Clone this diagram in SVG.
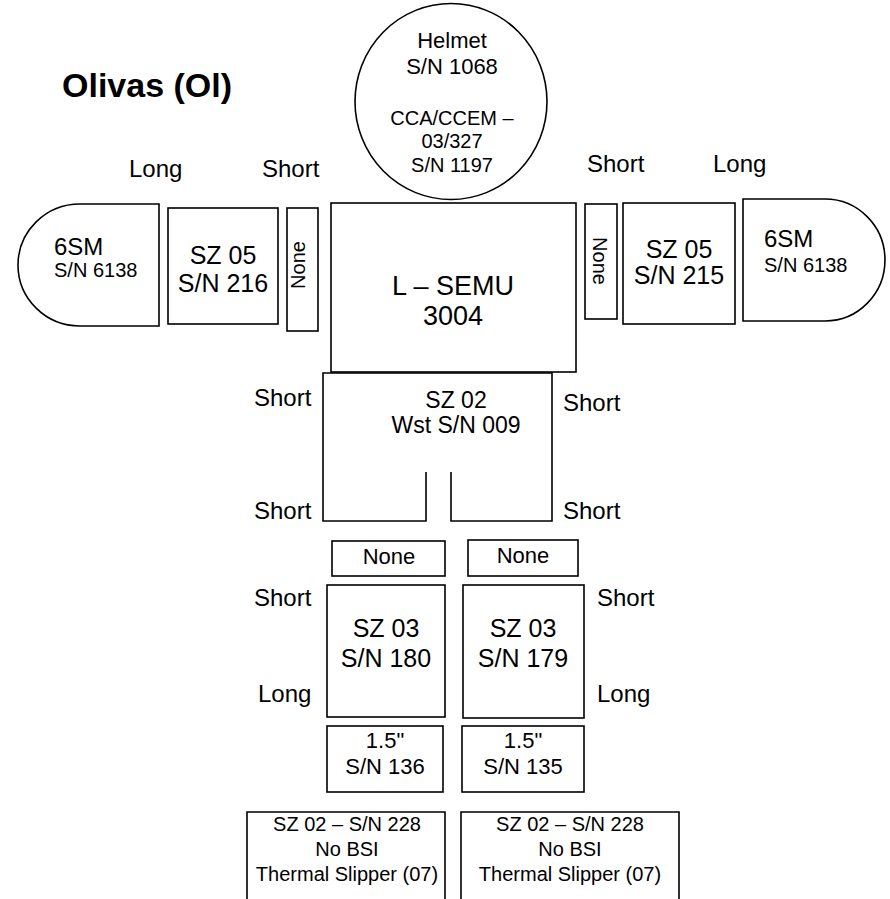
<svg xmlns="http://www.w3.org/2000/svg" width="890" height="899" viewBox="0 0 890 899">
<style>
  .s { fill: #fff; stroke: #000; stroke-width: 1.6; }
  .o { fill: none; stroke: #000; stroke-width: 1.6; }
  text { font-family: "Liberation Sans", Arial, sans-serif; fill: #000; }
  .c { text-anchor: middle; }
  .lbl { font-size: 24px; }
  .f25 { font-size: 25px; }
  .f22 { font-size: 22px; }
  .f20 { font-size: 20px; }
</style>
<rect width="890" height="899" fill="#fff"/>

<text x="62" y="97" style="font-size:34px;font-weight:bold">Olivas (Ol)</text>

<g id="labels" class="lbl">
  <text x="129" y="177">Long</text>
  <text x="262" y="177">Short</text>
  <text x="587" y="172">Short</text>
  <text x="713" y="172">Long</text>
  <text x="254" y="406">Short</text>
  <text x="563" y="411">Short</text>
  <text x="254" y="519">Short</text>
  <text x="563" y="519">Short</text>
  <text x="254" y="606">Short</text>
  <text x="597" y="606">Short</text>
  <text x="258" y="702">Long</text>
  <text x="597" y="702">Long</text>
</g>

<g id="helmet">
  <ellipse class="s" cx="451" cy="101.5" rx="96" ry="98"/>
  <text class="c f22" x="452" y="48">Helmet</text>
  <text class="c f22" x="452" y="74">S/N 1068</text>
  <text class="c f20" x="452" y="125">CCA/CCEM –</text>
  <text class="c f20" x="452" y="148">03/327</text>
  <text class="c f20" x="452" y="172">S/N 1197</text>
</g>

<g id="glove-left">
  <path class="s" d="M159,204 H80 A62,61 0 0 0 80,326 H159 Z"/>
  <text x="54" y="255" style="font-size:24px">6SM</text>
  <text x="54" y="277" class="f20">S/N 6138</text>
</g>
<g id="arm-left">
  <rect class="s" x="168" y="208" width="110" height="116"/>
  <text class="c f25" x="223" y="264">SZ 05</text>
  <text class="c f25" x="223" y="292">S/N 216</text>
</g>
<g id="spacer-arm-left">
  <rect class="s" x="287" y="208" width="31" height="123"/>
  <text class="c f20" transform="translate(305,265) rotate(-90)">None</text>
</g>

<g id="torso">
  <rect class="s" x="331" y="203" width="245" height="169"/>
  <text class="c" x="453" y="295" style="font-size:27px">L – SEMU</text>
  <text class="c" x="453" y="325" style="font-size:27px">3004</text>
</g>

<g id="spacer-arm-right">
  <rect class="s" x="585" y="204" width="32" height="115"/>
  <text class="c f20" transform="translate(593,261) rotate(90)">None</text>
</g>
<g id="arm-right">
  <rect class="s" x="623" y="203" width="112" height="121"/>
  <text class="c f25" x="679" y="258">SZ 05</text>
  <text class="c f25" x="679" y="284">S/N 215</text>
</g>
<g id="glove-right">
  <path class="s" d="M743,199 H825 A60,61 0 0 1 825,321 H743 Z"/>
  <text x="764" y="247" style="font-size:24px">6SM</text>
  <text x="764" y="272" class="f20">S/N 6138</text>
</g>

<g id="waist">
  <path class="o" d="M426,472 V521 H323 V373 H552 V521 H451 V472"/>
  <text class="c" x="456" y="408" style="font-size:23px">SZ 02</text>
  <text class="c" x="456" y="433" style="font-size:23px">Wst S/N 009</text>
</g>

<g id="spacer-leg-left">
  <rect class="s" x="332" y="541" width="113" height="35"/>
  <text class="c f22" x="389" y="564">None</text>
</g>
<g id="spacer-leg-right">
  <rect class="s" x="468" y="540" width="110" height="36"/>
  <text class="c f22" x="523" y="563">None</text>
</g>

<g id="leg-left">
  <rect class="s" x="327" y="585" width="118" height="132"/>
  <text class="c f25" x="386" y="637">SZ 03</text>
  <text class="c f25" x="386" y="667">S/N 180</text>
</g>
<g id="leg-right">
  <rect class="s" x="463" y="585" width="121" height="133"/>
  <text class="c f25" x="523" y="637">SZ 03</text>
  <text class="c f25" x="523" y="667">S/N 179</text>
</g>

<g id="ankle-left">
  <rect class="s" x="327" y="726" width="116" height="66"/>
  <text class="c f22" x="385" y="748">1.5"</text>
  <text class="c f22" x="385" y="774">S/N 136</text>
</g>
<g id="ankle-right">
  <rect class="s" x="462" y="726" width="122" height="66"/>
  <text class="c f22" x="523" y="748">1.5"</text>
  <text class="c f22" x="523" y="774">S/N 135</text>
</g>

<g id="boot-left">
  <path class="o" d="M247,905 V812 H445 V905"/>
  <text class="c f20" x="347" y="831">SZ 02 – S/N 228</text>
  <text class="c f20" x="347" y="856">No BSI</text>
  <text class="c f20" x="347" y="881">Thermal Slipper (07)</text>
</g>
<g id="boot-right">
  <path class="o" d="M461,905 V812 H679 V905"/>
  <text class="c f20" x="570" y="831">SZ 02 – S/N 228</text>
  <text class="c f20" x="570" y="856">No BSI</text>
  <text class="c f20" x="570" y="881">Thermal Slipper (07)</text>
</g>

<g id="connectors"/>
</svg>
